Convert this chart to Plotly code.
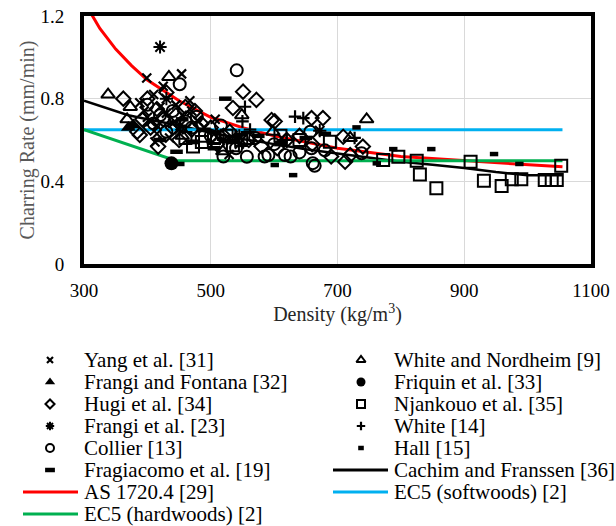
import plotly.graph_objects as go

# ---------------- data ----------------
yang_x = [399, 454, 467, 507, 388, 410, 420, 430, 395, 405, 440, 415, 455, 425, 445, 412, 435, 470, 480, 529, 545, 415, 400, 450, 490, 612]
yang_y = [0.90, 0.92, 0.79, 0.70, 0.78, 0.82, 0.76, 0.73, 0.74, 0.69, 0.68, 0.63, 0.72, 0.86, 0.77, 0.59, 0.61, 0.74, 0.69, 0.53, 0.58, 0.67, 0.71, 0.65, 0.66, 0.61]

wn_x = [338, 434, 373, 746, 720, 519, 549, 455, 598, 368, 505]
wn_y = [0.82, 0.905, 0.76, 0.70, 0.61, 0.545, 0.72, 0.62, 0.64, 0.70, 0.60]

ff_x = [378, 370]
ff_y = [0.673, 0.66]

friquin_x = [438]
friquin_y = [0.487]

hugi_x = [362, 388, 417, 384, 551, 572, 535, 596, 601, 659, 677, 709, 740, 712, 720, 400, 430, 415, 445, 460,
          475, 392, 440, 500, 520, 560, 580, 620, 640, 660, 690, 605, 470, 485, 510, 405, 450, 425, 530]
hugi_y = [0.80, 0.624, 0.568, 0.64, 0.834, 0.794, 0.755, 0.697, 0.69, 0.706, 0.706, 0.616, 0.568, 0.495, 0.527, 0.80, 0.83, 0.75, 0.72, 0.76,
          0.74, 0.70, 0.66, 0.66, 0.62, 0.60, 0.57, 0.60, 0.62, 0.58, 0.52, 0.56, 0.65, 0.68, 0.58, 0.66, 0.60, 0.70, 0.64]

njan_x = [472, 491, 688, 772, 796, 825, 830, 856, 910, 931, 959, 975, 990, 1027, 1038, 1046, 1053,
          486, 505, 525, 535, 548, 558, 610, 640, 460]
njan_y = [0.568, 0.62, 0.592, 0.503, 0.519, 0.50, 0.433, 0.366, 0.495, 0.403, 0.377, 0.41, 0.41, 0.406, 0.406, 0.406, 0.475,
          0.59, 0.61, 0.62, 0.575, 0.60, 0.61, 0.62, 0.60, 0.61]

frangi_x = [420, 430, 545, 672, 452, 520]
frangi_y = [1.05, 0.80, 0.62, 0.645, 0.67, 0.60]

white_x = [633, 646, 554, 727, 550, 562, 620, 540]
white_y = [0.713, 0.706, 0.761, 0.61, 0.69, 0.65, 0.60, 0.62]

collier_x = [541, 451, 478, 557, 591, 626, 661, 617, 657, 659, 738, 516, 400, 420, 440, 460, 430, 500, 540, 570,
             600, 640, 680, 470, 520, 585, 410, 664]
collier_y = [0.937, 0.87, 0.713, 0.519, 0.527, 0.52, 0.488, 0.527, 0.64, 0.56, 0.536, 0.67, 0.77, 0.72, 0.74, 0.69, 0.64, 0.62, 0.56, 0.61,
             0.58, 0.54, 0.55, 0.66, 0.52, 0.52, 0.68, 0.475]

hall_x = [452, 601, 630, 730, 762, 788, 848, 947, 987]
hall_y = [0.484, 0.479, 0.43, 0.661, 0.487, 0.556, 0.556, 0.532, 0.484]

fragiacomo_x = [446, 523, 470, 505, 535, 610, 650, 680, 575, 490, 420, 455]
fragiacomo_y = [0.543, 0.80, 0.59, 0.56, 0.59, 0.58, 0.61, 0.63, 0.62, 0.65, 0.60, 0.70]

cachim_x = [300, 330, 370, 400, 450, 500, 550, 600, 650, 700, 750, 800, 850, 900, 950, 1000, 1055]
cachim_y = [0.79, 0.76, 0.72, 0.70, 0.67, 0.635, 0.605, 0.58, 0.555, 0.535, 0.515, 0.495, 0.48, 0.465, 0.445, 0.43, 0.43]

as_x = [300, 325, 350, 375, 400, 450, 500, 550, 600, 650, 700, 800, 900, 1000, 1055]
as_y = [1.27, 1.14, 1.04, 0.96, 0.89, 0.79, 0.71, 0.66, 0.62, 0.59, 0.56, 0.52, 0.50, 0.48, 0.47]

ec5s_x = [300, 1055]
ec5s_y = [0.65, 0.65]

ec5h_x = [300, 445, 1055]
ec5h_y = [0.65, 0.50, 0.50]

x_ticks = [300, 500, 700, 900, 1100]
y_ticks = [0, 0.4, 0.8, 1.2]

# ---------------- styles ----------------
W, H = 616, 526
FONT = "'Liberation Serif', 'Times New Roman', Tinos, 'DejaVu Serif', serif"

# (name, x, y, symbol, plot size, legend size, line width)
marker_series = [
    ("Yang et al. [31]", yang_x, yang_y, "x-thin-open", 9, 6, 2.2),
    ("White and Nordheim [9]", wn_x, wn_y, "triangle-up-open", 12, 8, 2),
    ("Frangi and Fontana [32]", ff_x, ff_y, "triangle-up", 13, 9, 0),
    ("Friquin et al. [33]", friquin_x, friquin_y, "circle", 14, 9, 0),
    ("Hugi et al. [34]", hugi_x, hugi_y, "diamond-open", 11, 7, 2),
    ("Njankouo et al. [35]", njan_x, njan_y, "square-open", 12, 8, 2),
    ("Frangi et al. [23]", frangi_x, frangi_y, "asterisk-open", 11, 7, 2),
    ("White [14]", white_x, white_y, "cross-thin-open", 9, 6, 2.2),
    ("Collier [13]", collier_x, collier_y, "circle-open", 12, 8, 2),
    ("Hall [15]", hall_x, hall_y, "line-ew-open", 6, 4, 4.5),
    ("Fragiacomo et al. [19]", fragiacomo_x, fragiacomo_y, "line-ew-open", 9, 7, 4.5),
]
# (name, x, y, color, width)
line_series = [
    ("Cachim and Franssen [36]", cachim_x, cachim_y, "#000000", 2.5),
    ("AS 1720.4 [29]", as_x, as_y, "#ff0000", 3),
    ("EC5 (softwoods) [2]", ec5s_x, ec5s_y, "#00b0f0", 3),
    ("EC5 (hardwoods) [2]", ec5h_x, ec5h_y, "#00b050", 3),
]

legend_order = [
    "Yang et al. [31]", "White and Nordheim [9]",
    "Frangi and Fontana [32]", "Friquin et al. [33]",
    "Hugi et al. [34]", "Njankouo et al. [35]",
    "Frangi et al. [23]", "White [14]",
    "Collier [13]", "Hall [15]",
    "Fragiacomo et al. [19]", "Cachim and Franssen [36]",
    "AS 1720.4 [29]", "EC5 (softwoods) [2]",
    "EC5 (hardwoods) [2]",
]

fig = go.Figure()

# lines first (markers drawn on top)
for name, xs, ys, color, width in line_series:
    fig.add_trace(go.Scatter(x=xs, y=ys, mode="lines", name=name, showlegend=False,
                             line=dict(color=color, width=width), xaxis="x", yaxis="y"))

for name, xs, ys, sym, size, lsize, lw in marker_series:
    fig.add_trace(go.Scatter(x=xs, y=ys, mode="markers", name=name, showlegend=False,
                             marker=dict(symbol=sym, size=size, color="black",
                                         line=dict(color="black", width=lw)),
                             xaxis="x", yaxis="y"))

# ---------------- custom legend (second, invisible subplot in pixel units) ----------------
col_sym_x = [50, 361]
col_txt_x = [82, 392]
col_line_x = [(23, 78), (333, 388)]
row_y0, row_dy = 360, 22

mstyle = {m[0]: m for m in marker_series}
lstyle = {l[0]: l for l in line_series}
annotations = []
for i, name in enumerate(legend_order):
    r, c = divmod(i, 2)
    yy = row_y0 + r * row_dy
    if name in mstyle:
        _, _, _, sym, size, lsize, lw = mstyle[name]
        fig.add_trace(go.Scatter(x=[col_sym_x[c]], y=[yy], mode="markers", showlegend=False,
                                 hoverinfo="skip", cliponaxis=False,
                                 marker=dict(symbol=sym, size=lsize, color="black",
                                             line=dict(color="black", width=lw)),
                                 xaxis="x2", yaxis="y2"))
    else:
        _, _, _, color, width = lstyle[name]
        fig.add_trace(go.Scatter(x=list(col_line_x[c]), y=[yy, yy], mode="lines", showlegend=False,
                                 hoverinfo="skip", cliponaxis=False,
                                 line=dict(color=color, width=3),
                                 xaxis="x2", yaxis="y2"))
    annotations.append(dict(x=col_txt_x[c], y=yy, xref="x2", yref="y2", text=name,
                            showarrow=False, xanchor="left", yanchor="middle",
                            font=dict(family=FONT, size=21, color="black")))

plot_l, plot_r, plot_t, plot_b = 84, 591, 16, 264
leg_top_frac = 0.35

fig.update_layout(
    width=W, height=H,
    margin=dict(l=0, r=0, t=0, b=0, pad=0, autoexpand=False),
    paper_bgcolor="white", plot_bgcolor="rgba(0,0,0,0)",
    showlegend=False,
    font=dict(family=FONT, size=19, color="black"),
    xaxis=dict(domain=[plot_l / W, plot_r / W], anchor="y", range=[300, 1100],
               tickvals=x_ticks, ticks="", ticklabelstandoff=6, automargin=False,
               showgrid=True, gridcolor="#d9d9d9", gridwidth=1, zeroline=False,
               showline=True, linecolor="black", linewidth=4, mirror=True,
               tickfont=dict(family=FONT, size=19, color="black"),
               title=dict(text="Density (kg/m<sup>3</sup>)", standoff=6,
                          font=dict(family=FONT, size=20, color="#262626"))),
    yaxis=dict(domain=[(H - plot_b) / H, (H - plot_t) / H], anchor="x", range=[0, 1.2],
               tickvals=y_ticks, ticktext=["0", "0.4", "0.8", "1.2"], ticks="", ticklabelstandoff=12,
               automargin=False,
               showgrid=True, gridcolor="#d9d9d9", gridwidth=1, zeroline=False,
               showline=True, linecolor="black", linewidth=4, mirror=True,
               tickfont=dict(family=FONT, size=19, color="black"),
               title=dict(text="Charring Rate (mm/min)", standoff=1,
                          font=dict(family=FONT, size=20, color="#595959"))),
    xaxis2=dict(domain=[0, 1], anchor="y2", range=[0, W], visible=False, fixedrange=True, automargin=False),
    yaxis2=dict(domain=[0, leg_top_frac], anchor="x2", range=[H, H * (1 - leg_top_frac)],
                visible=False, fixedrange=True, automargin=False),
    annotations=annotations,
)

fig.write_html("out.html")
